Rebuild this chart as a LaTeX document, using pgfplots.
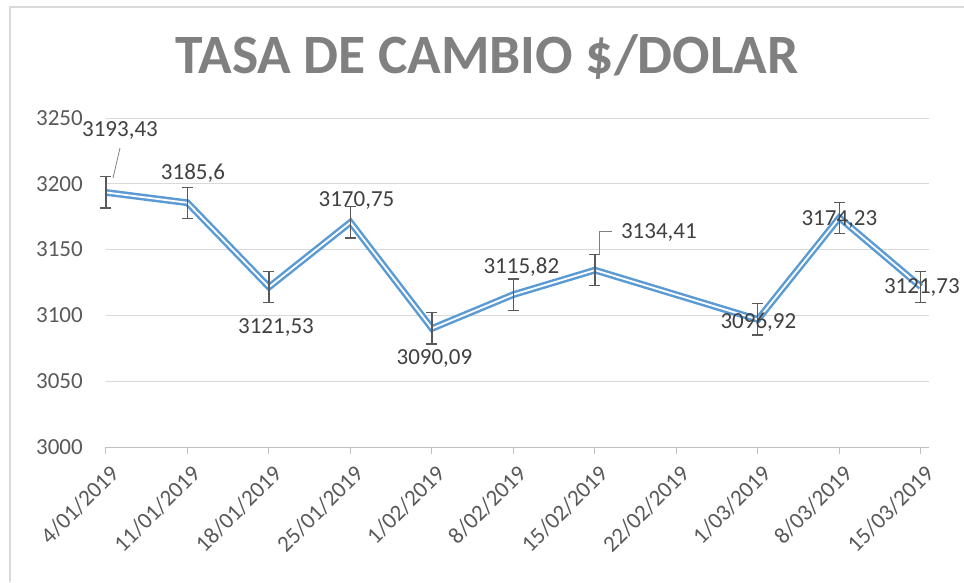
\documentclass[border=0pt]{standalone}
\usepackage{pgfplots}
\pgfplotsset{compat=1.18}
\usepackage{pgfplotstable}
\usepackage{fontspec}
\setmainfont{Carlito}
\definecolor{linecol}{HTML}{5B9BD5}
\definecolor{errcol}{HTML}{595959}
\definecolor{gridcol}{HTML}{D9D9D9}
\definecolor{axiscol}{HTML}{BFBFBF}
\definecolor{ticklab}{HTML}{595959}
\definecolor{datalab}{HTML}{404040}
\definecolor{titlecol}{HTML}{808080}
\definecolor{framecol}{HTML}{D9D9D9}

% x = category index (0 = 4/01/2019 ... 10 = 15/03/2019), 22/02/2019 (7) has no value
% dx, dy: offset of the value label from the point, in pt
\pgfplotstableread{
x  y        dx   dy
0  3193.43  14   62
1  3185.6   5.5  30
2  3121.53  7   -40
3  3170.75  6    22
4  3090.09  2.5 -30
5  3115.82  8    27.5
6  3134.41  64   38
8  3096.92  0.5 -2.5
9  3174.23  0   -2
10 3121.73  1   -1
}\datatable

\begin{document}
\begin{tikzpicture}
\useasboundingbox (0,0) rectangle (964pt,-582pt);
\draw[color=framecol, line width=1.5pt] (10pt,-582pt) -- (10pt,-7pt) -- (964pt,-7pt);
\node[font=\fontsize{55.5}{55.5}\selectfont\bfseries, text=titlecol, anchor=center] at (487pt,-57pt) {TASA DE CAMBIO \$/DOLAR};
\begin{axis}[
  at={(106pt,-447pt)}, anchor=south west,
  scale only axis, width=823pt, height=329pt,
  xmin=0, xmax=10.1, ymin=3000, ymax=3250,
  ytick={3000,3050,...,3250},
  xtick={0,1,...,10},
  xticklabels={4/01/2019,11/01/2019,18/01/2019,25/01/2019,1/02/2019,8/02/2019,15/02/2019,22/02/2019,1/03/2019,8/03/2019,15/03/2019},
  axis x line*=bottom, axis y line*=left,
  separate axis lines,
  x axis line style={draw=axiscol, line width=1pt},
  y axis line style={draw=none},
  ymajorgrids, grid style={color=gridcol, line width=1pt},
  xtick align=outside, major tick length=7pt,
  xtick style={color=axiscol, line width=1pt},
  ytick style={draw=none},
  /pgf/number format/.cd, use comma, 1000 sep={}, fixed, precision=2, assume math mode=true,
  /pgfplots/.cd,
  tick label style={font=\fontsize{23}{23}\selectfont, text=ticklab},
  yticklabel style={anchor=east, inner sep=0pt, xshift=-23pt},
  xticklabel style={rotate=45, anchor=east, inner sep=0pt, xshift=-4.6pt, yshift=-17.3pt},
  clip=false,
]
\addplot[color=linecol, line width=2.5pt, double=white, double distance=1.8pt, mark=none]
  table[x=x, y=y] {\datatable};
\addplot[draw=none, mark=none, forget plot,
  error bars/.cd, y dir=both, y fixed=11.87,
  error bar style={draw=errcol, line width=1.2pt},
  error mark options={draw=errcol, line width=1.2pt, mark size=5.5pt, rotate=90}]
  table[x=x, y=y] {\datatable};
\addplot[draw=none, mark=none,
  nodes near coords, point meta=explicit,
  visualization depends on={\thisrow{dx}\as\ddx},
  visualization depends on={\thisrow{dy}\as\ddy},
  every node near coord/.append style={anchor=center, xshift=\ddx pt, yshift=\ddy pt,
    font=\fontsize{23}{23}\selectfont, text=datalab}]
  table[x=x, y=y, meta=y] {\datatable};
\draw[color=gray, line width=0.8pt] (axis cs:0,3193.43) ++(7pt,14.4pt) -- ++(7pt,30pt);
\draw[color=gray, line width=0.8pt] (axis cs:6,3134.41) ++(4pt,15pt) -- ++(0pt,24pt) -- ++(13pt,0pt);
\end{axis}
\end{tikzpicture}
\end{document}
